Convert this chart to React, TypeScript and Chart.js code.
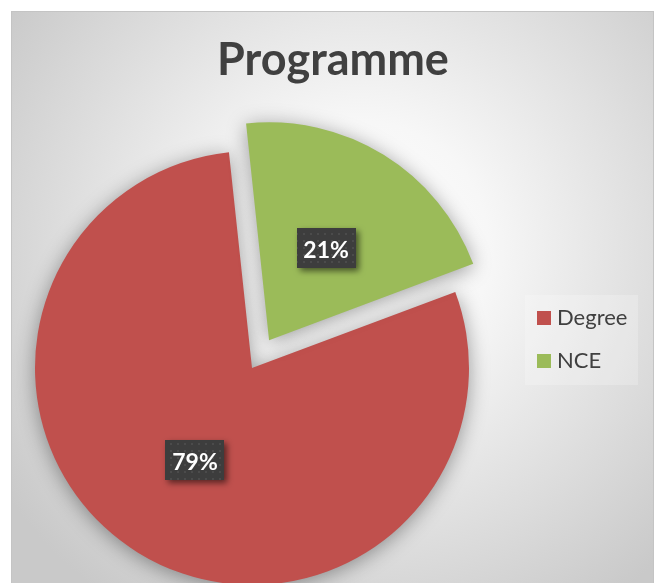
import React, { useEffect, useRef } from "react";
import { Chart, registerables } from "chart.js";

Chart.register(...registerables);

const TITLE = "Programme";
const CATEGORIES = ["Degree", "NCE"];
const VALUES = [79, 21];
const LABELS = ["79%", "21%"];
const COLORS = ["#C0504D", "#9BBB59"];
const OFFSETS = [0, 130];

const W = 654;
const H = 583;

function makePattern(ctx: CanvasRenderingContext2D) {
  const c = document.createElement("canvas");
  c.width = 7;
  c.height = 7;
  const p = c.getContext("2d")!;
  p.fillStyle = "#3d3d3d";
  p.fillRect(0, 0, 7, 7);
  p.fillStyle = "#4b4b4b";
  p.fillRect(2, 2, 2, 2);
  return ctx.createPattern(c, "repeat")!;
}

const bgPlugin = {
  id: "bgPanel",
  beforeDraw(chart: any) {
    const ctx = chart.ctx as CanvasRenderingContext2D;
    ctx.save();
    ctx.fillStyle = "#ffffff";
    ctx.fillRect(0, 0, W, H);
    const g = ctx.createRadialGradient(360, 250, 0, 360, 250, 430);
    g.addColorStop(0, "#ffffff");
    g.addColorStop(0.3, "#f7f7f7");
    g.addColorStop(1, "#c9c9c9");
    ctx.fillStyle = g;
    ctx.fillRect(12, 12, 641, H - 12);
    ctx.strokeStyle = "#c4c4c4";
    ctx.lineWidth = 1;
    ctx.strokeRect(11.5, 11.5, 642, H);
    // title
    ctx.fillStyle = "#404040";
    ctx.font = "bold 45px Lato";
    ctx.textAlign = "center";
    ctx.textBaseline = "alphabetic";
    ctx.fillText(TITLE, 333, 75);
    ctx.restore();
  },
  beforeDatasetsDraw(chart: any) {
    const ctx = chart.ctx as CanvasRenderingContext2D;
    ctx.save();
    ctx.shadowColor = "rgba(0,0,0,0.38)";
    ctx.shadowBlur = 20;
    ctx.shadowOffsetX = 0;
    ctx.shadowOffsetY = 3;
  },
  afterDatasetsDraw(chart: any) {
    const ctx = chart.ctx as CanvasRenderingContext2D;
    ctx.restore();
    const meta = chart.getDatasetMeta(0);
    const pattern = makePattern(ctx);
    meta.data.forEach((el: any, i: number) => {
      const mid = (el.startAngle + el.endAngle) / 2;
      const off = (OFFSETS[i] || 0) / 4;
      const d = off + el.outerRadius * 0.5;
      const cx = el.x + Math.cos(mid) * d;
      const cy = el.y + Math.sin(mid) * d;
      const bw = 59;
      const bh = 40;
      ctx.save();
      ctx.shadowColor = "rgba(0,0,0,0.55)";
      ctx.shadowBlur = 6;
      ctx.shadowOffsetX = 3;
      ctx.shadowOffsetY = 3;
      ctx.fillStyle = pattern;
      ctx.fillRect(Math.round(cx - bw / 2), Math.round(cy - bh / 2), bw, bh);
      ctx.restore();
      ctx.save();
      ctx.fillStyle = "#ffffff";
      ctx.font = "bold 23px Lato";
      ctx.textAlign = "center";
      ctx.textBaseline = "alphabetic";
      ctx.fillText(LABELS[i], cx, cy + 10);
      ctx.restore();
    });
  },
  afterDraw(chart: any) {
    const ctx = chart.ctx as CanvasRenderingContext2D;
    ctx.save();
    ctx.fillStyle = "rgba(255,255,255,0.22)";
    ctx.fillRect(525, 295, 113, 90);
    ctx.font = "22px Lato";
    ctx.textAlign = "left";
    ctx.textBaseline = "alphabetic";
    CATEGORIES.forEach((c, i) => {
      const base = 325 + i * 43;
      ctx.fillStyle = COLORS[i];
      ctx.fillRect(537, base - 14, 14, 14);
      ctx.fillStyle = "#404040";
      ctx.fillText(c, 557, base);
    });
    ctx.restore();
  },
};

export default function App() {
  const ref = useRef<HTMLCanvasElement>(null);
  useEffect(() => {
    let chart: Chart | null = null;
    let cancelled = false;
    document.body.style.margin = "0";
    const fontsReady = (document as any).fonts
      ? Promise.all([
          (document as any).fonts.load("bold 44px Lato"),
          (document as any).fonts.load("22px Lato"),
        ]).catch(() => null)
      : Promise.resolve(null);
    fontsReady.then(() => {
      if (cancelled || !ref.current) return;
      chart = new Chart(ref.current, {
        type: "pie",
        data: {
          labels: CATEGORIES,
          datasets: [
            {
              data: VALUES,
              backgroundColor: COLORS,
              borderWidth: 0,
              offset: OFFSETS,
              hoverOffset: 0,
              radius: 217,
              rotation: 69.5,
              clip: false,
            } as any,
          ],
        },
        options: {
          responsive: false,
          animation: false,
          devicePixelRatio: 1,
          radius: 217,
          rotation: 69.5,
          layout: { padding: { left: 0, right: 150, top: 153, bottom: 0 } },
          plugins: {
            legend: { display: false },
            title: { display: false },
            tooltip: { enabled: false },
          },
          events: [],
        } as any,
        plugins: [bgPlugin],
      });
    });
    return () => {
      cancelled = true;
      if (chart) chart.destroy();
    };
  }, []);
  return (
    <div style={{ position: "fixed", left: 0, top: 0, width: W, height: H }}>
      <canvas ref={ref} width={W} height={H} style={{ width: W, height: H, display: "block" }} />
    </div>
  );
}
